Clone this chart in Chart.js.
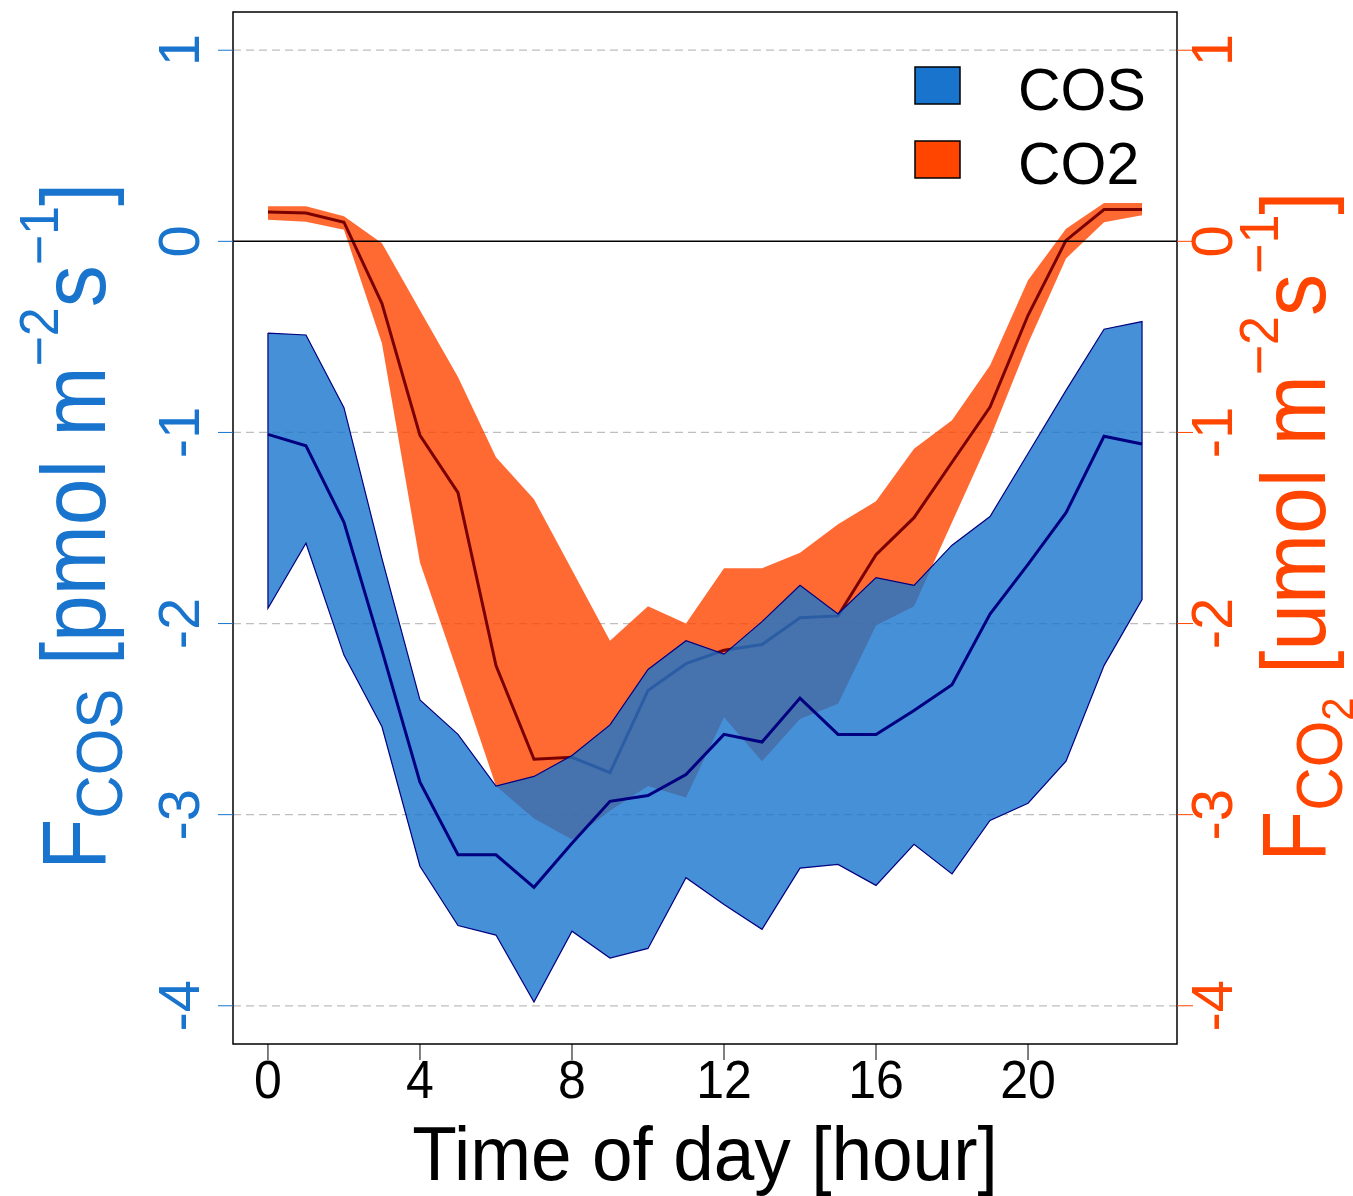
<!DOCTYPE html>
<html>
<head>
<meta charset="utf-8">
<script src="https://cdn.jsdelivr.net/npm/chart.js@4.4.1/dist/chart.umd.min.js"></script>
<style>
  html, body { margin:0; padding:0; background:#fff; }
  canvas { display:block; }
</style>
</head>
<body>
<canvas id="chart" width="1353" height="1196"></canvas>
<script>
// ---- data
const hours = [0,1,2,3,4,5,6,7,8,9,10,11,12,13,14,15,16,17,18,19,20,21,22,23];

const cosMean = [-1.01,-1.07,-1.47,-2.14,-2.83,-3.21,-3.21,-3.38,-3.15,-2.93,-2.90,-2.79,
                 -2.58,-2.62,-2.39,-2.58,-2.58,-2.455,-2.32,-1.95,-1.69,-1.42,-1.02,-1.06];
const cosHigh = [-0.48,-0.49,-0.87,-1.66,-2.40,-2.58,-2.85,-2.80,-2.69,-2.53,-2.24,-2.09,
                 -2.16,-1.99,-1.80,-1.95,-1.76,-1.80,-1.59,-1.44,-1.11,-0.78,-0.46,-0.42];
const cosLow  = [-1.92,-1.58,-2.165,-2.54,-3.27,-3.58,-3.63,-3.98,-3.61,-3.75,-3.70,-3.33,
                 -3.47,-3.60,-3.28,-3.26,-3.37,-3.155,-3.31,-3.03,-2.94,-2.72,-2.22,-1.875];

const co2Mean = [0.153,0.148,0.10,-0.326,-1.015,-1.315,-2.22,-2.71,-2.70,-2.78,-2.35,-2.21,
                 -2.14,-2.11,-1.97,-1.96,-1.64,-1.446,-1.156,-0.867,-0.387,0.005,0.166,0.166];
const co2High = [0.183,0.183,0.131,-0.01,-0.36,-0.71,-1.13,-1.35,-1.72,-2.09,-1.91,-2.00,
                 -1.71,-1.71,-1.63,-1.48,-1.36,-1.085,-0.936,-0.65,-0.204,0.066,0.20,0.20];
const co2Low  = [0.113,0.103,0.06,-0.535,-1.68,-2.26,-2.85,-3.02,-3.13,-2.98,-2.85,-2.91,
                 -2.49,-2.72,-2.50,-2.42,-2.01,-1.91,-1.47,-1.03,-0.535,-0.09,0.10,0.136];

const xTicks = [0,4,8,12,16,20];
const yTicks = [1,0,-1,-2,-3,-4];
const legendLabels = ['COS','CO2'];

// ---- styles
const BLUE   = '#1874CD';
const ORANGE = '#FF4500';
const NAVY   = '#000080';
const FONT   = '"Liberation Sans", Arial, Helvetica, sans-serif';
const MINUS  = '\u2212';

const pts  = ys => hours.map((h,i)=>({x:h, y:ys[i]}));
const poly = (hi, lo) => { const p = pts(hi).concat(pts(lo).reverse()); p.push(p[0]); return p; };

// draw a run of text pieces (sizes / baseline shifts) along one line
function richText(ctx, parts, x, y, rot, sy, align){
  ctx.save();
  ctx.translate(x, y); ctx.rotate(rot); ctx.scale(1, sy);
  ctx.textBaseline = 'alphabetic'; ctx.textAlign = 'left';
  let total = 0;
  parts.forEach(p=>{ ctx.font = `${p.size}px ${FONT}`; p.w = ctx.measureText(p.t).width; total += p.w; });
  let cx = align==='center' ? -total/2 : 0;
  parts.forEach(p=>{ ctx.font = `${p.size}px ${FONT}`; ctx.fillText(p.t, cx, p.dy||0); cx += p.w; });
  ctx.restore();
}

const decor = {
  id:'decor',
  beforeDatasetsDraw(chart){
    const {ctx, chartArea:a, scales:{y}} = chart;
    ctx.save();
    ctx.strokeStyle = '#BEBEBE'; ctx.lineWidth = 1.3; ctx.setLineDash([8,5]);
    yTicks.filter(v=>v!==0).forEach(v=>{
      const py = y.getPixelForValue(v);
      ctx.beginPath(); ctx.moveTo(a.left, py); ctx.lineTo(a.right, py); ctx.stroke();
    });
    ctx.restore();
  },
  afterDatasetsDraw(chart){
    const {ctx, chartArea:a, scales:{x, y, y2}} = chart;
    ctx.save();
    // zero line
    ctx.strokeStyle = '#000'; ctx.lineWidth = 1.5;
    const y0 = y.getPixelForValue(0);
    ctx.beginPath(); ctx.moveTo(a.left, y0); ctx.lineTo(a.right, y0); ctx.stroke();
    // box
    ctx.strokeRect(a.left, a.top, a.right-a.left, a.bottom-a.top);

    // x ticks + labels
    ctx.lineWidth = 1;
    xTicks.forEach(v=>{
      const px = x.getPixelForValue(v);
      ctx.beginPath(); ctx.moveTo(px, a.bottom); ctx.lineTo(px, a.bottom+16); ctx.stroke();
      ctx.fillStyle = '#000';
      richText(ctx, [{t:String(v), size:50}], px, 1098, 0, 1.07, 'center');
    });
    // left ticks + labels
    yTicks.forEach(v=>{
      const py = y.getPixelForValue(v);
      ctx.strokeStyle = BLUE;
      ctx.beginPath(); ctx.moveTo(a.left-15, py); ctx.lineTo(a.left, py); ctx.stroke();
      ctx.fillStyle = BLUE;
      richText(ctx, [{t:String(v), size:58}], 199, py, -Math.PI/2, 1, 'center');
    });
    // right ticks + labels
    yTicks.forEach(v=>{
      const py = y2.getPixelForValue(v);
      ctx.strokeStyle = ORANGE;
      ctx.beginPath(); ctx.moveTo(a.right, py); ctx.lineTo(a.right+16, py); ctx.stroke();
      ctx.fillStyle = ORANGE;
      richText(ctx, [{t:String(v), size:58}], 1232, py, -Math.PI/2, 1, 'center');
    });

    // axis titles
    ctx.fillStyle = '#000';
    richText(ctx, [{t:'Time of day [hour]', size:73}], (a.left+a.right)/2, 1180, 0, 1.05, 'center');

    ctx.fillStyle = BLUE;
    richText(ctx, [
      {t:'F', size:84}, {t:'COS', size:60, dy:16},
      {t:' [pmol m', size:84}, {t:MINUS+'2', size:52, dy:-44},
      {t:'s', size:84}, {t:MINUS+'1', size:52, dy:-44}, {t:']', size:84}
    ], 105, 870, -Math.PI/2, 1.07);

    ctx.fillStyle = ORANGE;
    richText(ctx, [
      {t:'F', size:84}, {t:'CO', size:60, dy:16}, {t:'2', size:42, dy:26},
      {t:' [umol m', size:84}, {t:MINUS+'2', size:52, dy:-44},
      {t:'s', size:84}, {t:MINUS+'1', size:52, dy:-44}, {t:']', size:84}
    ], 1325, 862, -Math.PI/2, 1.07);

    // legend
    const sw = [BLUE, ORANGE];
    legendLabels.forEach((lab,i)=>{
      const top = 67 + i*74;
      ctx.fillStyle = sw[i];
      ctx.fillRect(915, top, 45, 37);
      ctx.strokeStyle = '#000'; ctx.lineWidth = 1.5;
      ctx.strokeRect(915, top, 45, 37);
      ctx.fillStyle = '#000';
      richText(ctx, [{t:lab, size:59}], 1018, 110 + i*74, 0, 1, 'left');
    });
    ctx.restore();
  }
};

new Chart(document.getElementById('chart').getContext('2d'), {
  type:'line',
  data:{
    datasets:[
      { label:'COS mean', data:pts(cosMean), yAxisID:'y', order:0,
        borderColor:NAVY, borderWidth:3, pointRadius:0, fill:false, tension:0 },
      { label:'COS range', data:poly(cosHigh, cosLow), yAxisID:'y', order:1,
        borderColor:NAVY, borderWidth:1.2, backgroundColor:'rgba(24,116,205,0.8)',
        pointRadius:0, fill:'shape', tension:0 },
      { label:'CO2 mean', data:pts(co2Mean), yAxisID:'y2', order:2,
        borderColor:'#7a0000', borderWidth:3, pointRadius:0, fill:false, tension:0 },
      { label:'CO2 range', data:poly(co2High, co2Low), yAxisID:'y2', order:3,
        borderColor:'rgba(0,0,0,0)', borderWidth:0, backgroundColor:'rgba(255,69,0,0.8)',
        pointRadius:0, fill:'shape', tension:0 }
    ]
  },
  options:{
    responsive:false,
    animation:false,
    devicePixelRatio:1,
    layout:{ padding:{ left:233, right:176, top:12, bottom:152 } },
    scales:{
      x:{ type:'linear', min:-0.92, max:23.92, display:false },
      y:{ type:'linear', min:-4.2, max:1.2, display:false },
      y2:{ type:'linear', min:-4.2, max:1.2, display:false, position:'right' }
    },
    plugins:{ legend:{display:false}, tooltip:{enabled:false} }
  },
  plugins:[decor]
});
</script>
</body>
</html>
